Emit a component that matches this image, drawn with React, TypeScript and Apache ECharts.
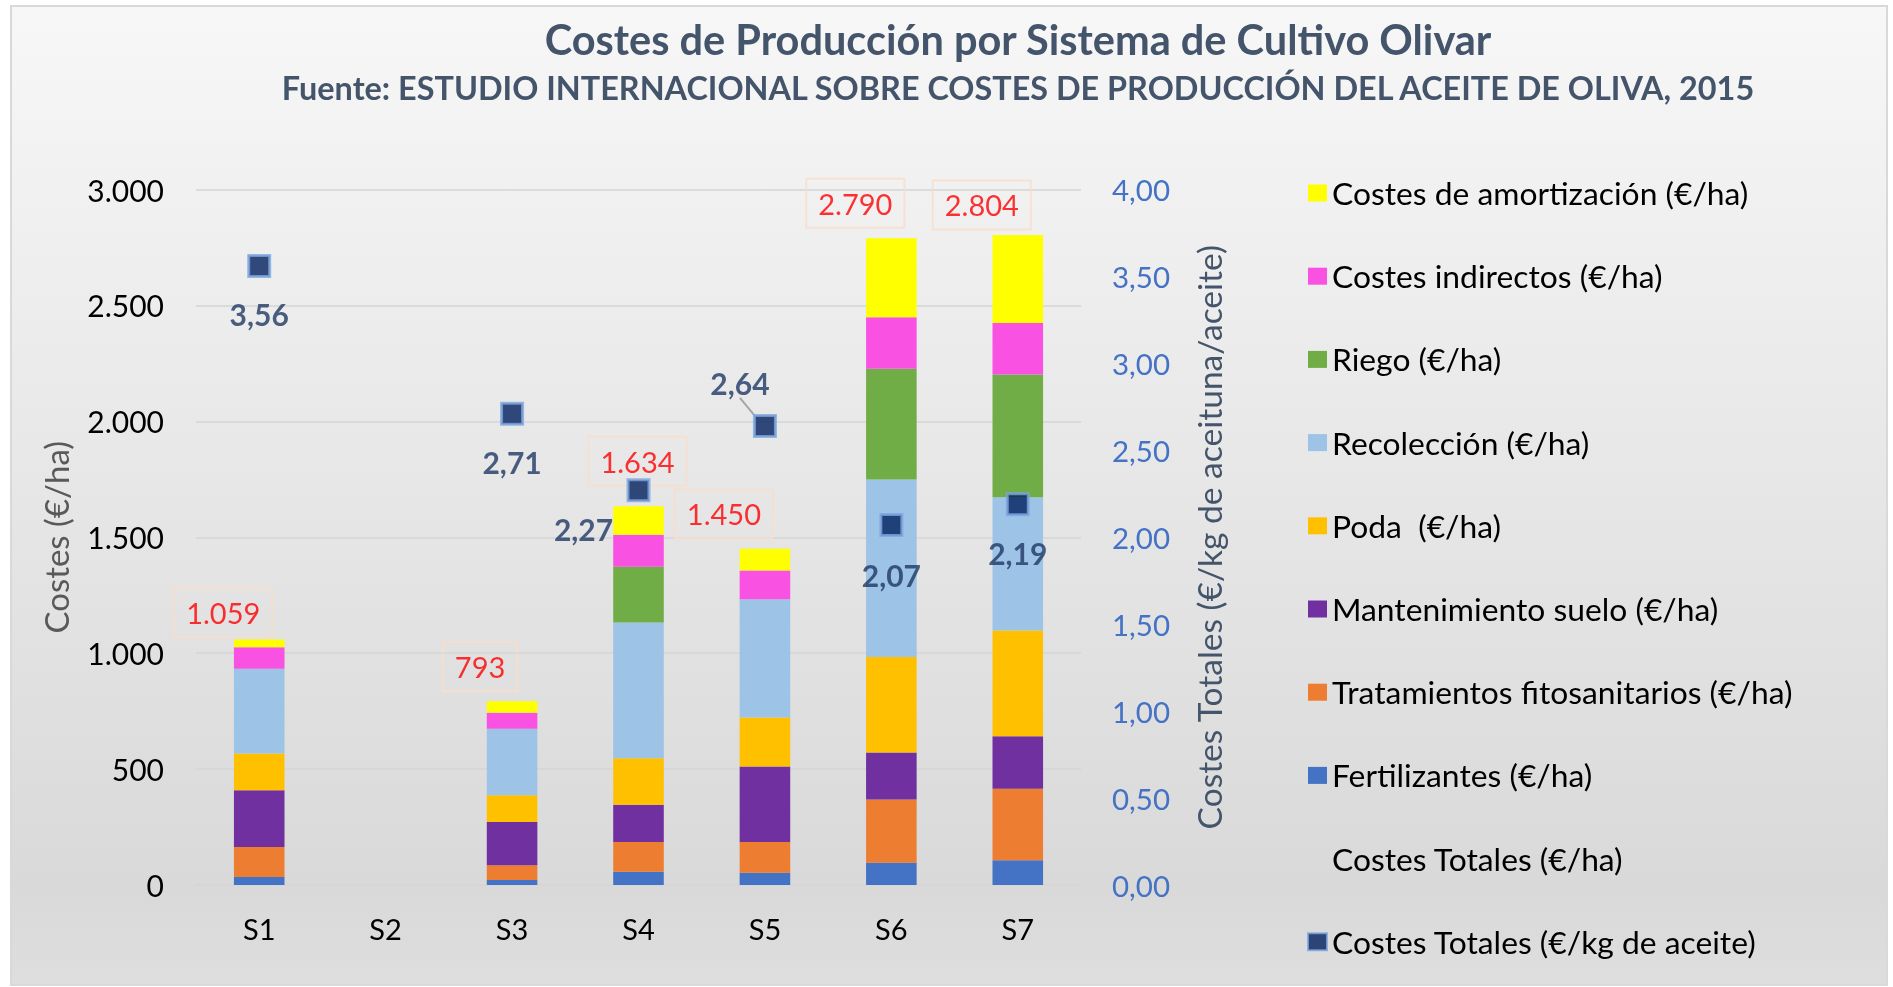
import React, { useEffect, useRef } from 'react';
import * as echarts from 'echarts';

// ---------- Data ----------
const categories = ['S1', 'S2', 'S3', 'S4', 'S5', 'S6', 'S7'];

const fertilizantes = [35, null, 22, 57, 53, 96, 107];
const tratamientos = [129, null, 63, 129, 133, 273, 308];
const mantenimiento = [245, null, 187, 160, 325, 203, 227];
const poda = [158, null, 115, 201, 212, 411, 456];
const recoleccion = [366, null, 287, 585, 510, 766, 574];
const riego = [null, null, null, 241, null, 478, 530];
const indirectos = [92, null, 69, 138, 124, 222, 222];
const amortizacion = [34, null, 50, 123, 93, 341, 380];

const totalesHa = [1059, null, 793, 1634, 1450, 2790, 2804];
const totalesKg = [3.56, null, 2.71, 2.27, 2.64, 2.07, 2.19];

const leftAxis = { min: 0, max: 3000, interval: 500 };
const rightAxis = { min: 0, max: 4, interval: 0.5 };

// ---------- Styles ----------
const FONT = 'Lato';

const stackSeries = [
  { name: 'Fertilizantes (€/ha)', data: fertilizantes, color: '#4472C4' },
  { name: 'Tratamientos fitosanitarios (€/ha)', data: tratamientos, color: '#ED7D31' },
  { name: 'Mantenimiento suelo (€/ha)', data: mantenimiento, color: '#7030A0' },
  { name: 'Poda  (€/ha)', data: poda, color: '#FFC000' },
  { name: 'Recolección (€/ha)', data: recoleccion, color: '#9DC3E6' },
  { name: 'Riego (€/ha)', data: riego, color: '#70AD47' },
  { name: 'Costes indirectos (€/ha)', data: indirectos, color: '#F952E3' },
  { name: 'Costes de amortización (€/ha)', data: amortizacion, color: '#FFFF00' },
];

const TOTAL_HA_NAME = 'Costes Totales (€/ha)';
const TOTAL_KG_NAME = 'Costes Totales (€/kg de aceite)';

// label offsets (style only)
const haLabelOffsets = [[-36, -27], [0, 0], [-32, -35], [-1, -45], [-41, -35], [-36, -35], [-36, -30]];
const kgLabelOffsets = [[0, 48], [0, 0], [0, 48], [-55, 39], [-25, -43], [0, 50], [0, 49]];

const fmtThousands = (v: number) => {
  const s = Math.round(v).toString();
  return s.replace(/\B(?=(\d{3})+(?!\d))/g, '.');
};
const fmtDec = (v: number) => v.toFixed(2).replace('.', ',');

export default function App() {
  const ref = useRef<HTMLDivElement>(null);

  useEffect(() => {
    const chart = echarts.init(ref.current!, undefined, { renderer: 'svg' });

    const bars = stackSeries.map((s) => ({
      name: s.name,
      type: 'bar',
      stack: 'costes',
      yAxisIndex: 0,
      barWidth: '40%',
      data: s.data,
      itemStyle: { color: s.color },
      emphasis: { disabled: true },
    }));

    const haSeries = {
      name: TOTAL_HA_NAME,
      type: 'scatter',
      yAxisIndex: 0,
      symbolSize: 1,
      itemStyle: { color: 'rgba(0,0,0,0)' },
      data: totalesHa.map((v, i) =>
        v == null
          ? { value: [i, '-'] }
          : { value: [i, v], label: { offset: haLabelOffsets[i] } }
      ),
      label: {
        show: true,
        position: 'inside',
        formatter: (p: any) => fmtThousands(p.value[1]),
        color: '#FF0000',
        fontSize: 29,
        fontFamily: FONT,
        borderColor: '#F9DDCB',
        borderWidth: 2,
        padding: [10, 12],
      },
      z: 5,
    };

    const kgSeries = {
      name: TOTAL_KG_NAME,
      type: 'scatter',
      yAxisIndex: 1,
      symbol: 'rect',
      symbolSize: 21,
      itemStyle: { color: '#001F5C', borderColor: '#7EA6DE', borderWidth: 3 },
      data: totalesKg.map((v, i) =>
        v == null
          ? { value: [i, '-'] }
          : i === 4
          ? { value: [i, v], labelLine: { show: true } }
          : { value: [i, v] }
      ),
      label: {
        show: true,
        position: 'inside',
        formatter: (p: any) => fmtDec(p.value[1]),
        color: '#1F3864',
        fontSize: 30,
        fontWeight: 'bold',
        fontFamily: FONT,
      },
      labelLayout: (p: any) => ({
        dx: kgLabelOffsets[p.dataIndex][0],
        dy: kgLabelOffsets[p.dataIndex][1],
      }),
      labelLine: { show: false, lineStyle: { color: '#A6A6A6', width: 2 } },
      z: 6,
    };

    const legendOrder = [
      'Costes de amortización (€/ha)',
      'Costes indirectos (€/ha)',
      'Riego (€/ha)',
      'Recolección (€/ha)',
      'Poda  (€/ha)',
      'Mantenimiento suelo (€/ha)',
      'Tratamientos fitosanitarios (€/ha)',
      'Fertilizantes (€/ha)',
      TOTAL_HA_NAME,
      TOTAL_KG_NAME,
    ];

    chart.setOption({
      animation: false,
      textStyle: { fontFamily: FONT },
      graphic: [
        {
          type: 'rect',
          z: -10,
          silent: true,
          shape: { x: 11, y: 6, width: 1876, height: 979 },
          style: {
            fill: new echarts.graphic.LinearGradient(0, 0, 0, 1, [
              { offset: 0, color: '#F7F7F7' },
              { offset: 0.9, color: '#D9D9D9' },
              { offset: 1, color: '#DEDEDE' },
            ]),
            stroke: '#D9D9D9',
            lineWidth: 2,
          },
        },
        {
          type: 'text',
          x: 1018,
          y: 39,
          silent: true,
          style: {
            text: 'Costes de Producción por Sistema de Cultivo Olivar',
            fill: '#44546A',
            fontSize: 41.5,
            fontWeight: 'bold',
            fontFamily: FONT,
            align: 'center',
            verticalAlign: 'middle',
          },
        },
        {
          type: 'text',
          x: 1018,
          y: 87,
          silent: true,
          style: {
            text: 'Fuente: ESTUDIO INTERNACIONAL SOBRE COSTES DE PRODUCCIÓN DEL ACEITE DE OLIVA, 2015',
            fill: '#44546A',
            fontSize: 32.4,
            fontWeight: 'bold',
            fontFamily: FONT,
            align: 'center',
            verticalAlign: 'middle',
          },
        },
      ],
      grid: { left: 196, right: 812, top: 189.5, bottom: 102 },
      legend: {
        orient: 'vertical',
        left: 1302,
        top: 172,
        itemWidth: 19,
        itemHeight: 17,
        itemGap: 51.2,
        icon: 'rect',
        selectedMode: false,
        textStyle: { fontSize: 31.8, color: '#000000', fontFamily: FONT, lineHeight: 30, padding: [0, 0, 0, 0] },
        data: legendOrder.map((n) =>
          n === TOTAL_HA_NAME ? { name: n, itemStyle: { color: 'rgba(0,0,0,0)', borderWidth: 0 } } : { name: n }
        ),
      },
      xAxis: {
        type: 'category',
        data: categories,
        axisLine: { show: false },
        axisTick: { show: false },
        axisLabel: { fontSize: 29, color: '#000000', margin: 29, fontFamily: FONT },
      },
      yAxis: [
        {
          type: 'value',
          min: leftAxis.min,
          max: leftAxis.max,
          interval: leftAxis.interval,
          axisLine: { show: false },
          axisTick: { show: false },
          axisLabel: { fontSize: 30, color: '#000000', margin: 32, fontFamily: FONT, formatter: (v: number) => fmtThousands(v) },
          splitLine: { lineStyle: { color: '#D4D4D4', width: 1.5 } },
          name: 'Costes (€/ha)',
          nameLocation: 'middle',
          nameRotate: 90,
          nameGap: 124,
          nameTextStyle: { fontSize: 33, color: '#595959', fontFamily: FONT },
        },
        {
          type: 'value',
          position: 'right',
          min: rightAxis.min,
          max: rightAxis.max,
          interval: rightAxis.interval,
          axisLine: { show: false },
          axisTick: { show: false },
          splitLine: { show: false },
          axisLabel: { fontSize: 29.5, color: '#4472C4', margin: 31, fontFamily: FONT, formatter: (v: number) => fmtDec(v) },
          name: 'Costes Totales (€/kg de aceituna/aceite)',
          nameLocation: 'middle',
          nameRotate: 90,
          nameGap: 111,
          nameTextStyle: { fontSize: 33.5, color: '#44546A', fontFamily: FONT },
        },
      ],
      series: [...bars, haSeries, kgSeries],
    });

    return () => chart.dispose();
  }, []);

  return <div ref={ref} style={{ position: 'fixed', left: 0, top: 0, width: 1893, height: 987 }} />;
}
